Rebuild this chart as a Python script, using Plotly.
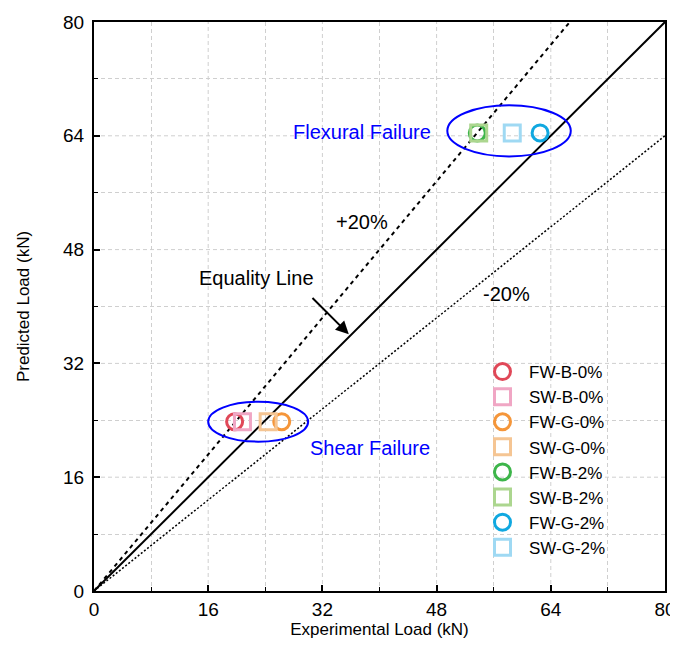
import plotly.graph_objects as go

# Data
names = ["FW-B-0%", "SW-B-0%", "FW-G-0%", "SW-G-0%", "FW-B-2%", "SW-B-2%", "FW-G-2%", "SW-G-2%"]
exp_load = [19.7, 20.8, 26.3, 24.4, 53.7, 53.9, 62.5, 58.6]
pred_load = [23.8, 23.8, 23.8, 23.8, 64.4, 64.4, 64.4, 64.4]
symbols = ["circle-open", "square-open", "circle-open", "square-open",
           "circle-open", "square-open", "circle-open", "square-open"]
colors = ["#e04858", "#f0a6c4", "#f5963a", "#f5c593", "#3db54a", "#acd68f", "#10a8e0", "#9fd9f3"]

line_x = [0, 80]
equality_y = [0, 80]
plus20_x = [0, 80 / 1.2]
plus20_y = [0, 80]
minus20_y = [0, 64]

fig = go.Figure()

fig.add_trace(go.Scatter(x=line_x, y=equality_y, mode="lines",
                         line=dict(color="black", width=2), showlegend=False, hoverinfo="skip"))
fig.add_trace(go.Scatter(x=plus20_x, y=plus20_y, mode="lines",
                         line=dict(color="black", width=2, dash="4px,4px"), showlegend=False, hoverinfo="skip"))
fig.add_trace(go.Scatter(x=line_x, y=minus20_y, mode="lines",
                         line=dict(color="black", width=1.5, dash="2px,2px"), showlegend=False, hoverinfo="skip"))

for n, xv, yv, s, c in zip(names, exp_load, pred_load, symbols, colors):
    fig.add_trace(go.Scatter(x=[xv], y=[yv], mode="markers", name=n,
                             marker=dict(symbol=s, size=16, color=c, line=dict(color=c, width=3))))

fig.add_shape(type="circle", xref="x", yref="y", x0=16.0, x1=30.0, y0=21.0, y1=26.6,
              line=dict(color="#0000ff", width=2))
fig.add_shape(type="circle", xref="x", yref="y", x0=49.5, x1=66.8, y0=61.1, y1=68.3,
              line=dict(color="#0000ff", width=2))

font = "Liberation Sans, Arial, sans-serif"
ann_size = 20
fig.add_annotation(x=37.6, y=64.6, text="Flexural Failure", showarrow=False,
                   font=dict(family=font, size=ann_size, color="#0000ff"))
fig.add_annotation(x=38.7, y=20.1, text="Shear Failure", showarrow=False,
                   font=dict(family=font, size=ann_size, color="#0000ff"))
fig.add_annotation(x=37.6, y=51.9, text="+20%", showarrow=False,
                   font=dict(family=font, size=ann_size, color="black"))
fig.add_annotation(x=57.8, y=41.8, text="-20%", showarrow=False,
                   font=dict(family=font, size=ann_size, color="black"))
fig.add_annotation(x=22.8, y=44.0, text="Equality Line", showarrow=False,
                   font=dict(family=font, size=ann_size, color="black"))
fig.add_annotation(x=35.7, y=36.1, ax=30.4, ay=41.4, xref="x", yref="y", axref="x", ayref="y",
                   text="", showarrow=True, arrowhead=2, arrowsize=1.3, arrowwidth=2, arrowcolor="black")

axis_common = dict(range=[0, 80], tickvals=[0, 16, 32, 48, 64, 80], ticks="inside", ticklen=6,
                   tickwidth=1.5, tickcolor="black", showline=True, linecolor="black", linewidth=2,
                   mirror=True, showgrid=False, zeroline=False, automargin=False,
                   tickfont=dict(family=font, size=19, color="black"),
                   minor=dict(tickvals=[8, 24, 40, 56, 72], ticks="inside", ticklen=4, tickwidth=1,
                              tickcolor="black", showgrid=True, gridcolor="#cfcfcf",
                              griddash="4px,3px", gridwidth=1))

fig.update_xaxes(**axis_common, title=dict(text="Experimental Load (kN)", standoff=0,
                                           font=dict(family=font, size=17, color="black")))
fig.update_yaxes(**axis_common, ticklabelstandoff=4,
                 title=dict(text="Predicted Load (kN)", standoff=29,
                            font=dict(family=font, size=17, color="black")))

# dashed grid lines at the interior major ticks
for v in [16, 32, 48, 64]:
    fig.add_shape(type="line", xref="x", yref="paper", x0=v, x1=v, y0=0, y1=1,
                  line=dict(color="#cfcfcf", width=1, dash="4px,3px"), layer="below")
    fig.add_shape(type="line", xref="paper", yref="y", x0=0, x1=1, y0=v, y1=v,
                  line=dict(color="#cfcfcf", width=1, dash="4px,3px"), layer="below")

# the page body adds an 8px offset, so the figure is sized to fit the 678x664 window
fig.update_layout(
    width=670, height=656,
    margin=dict(l=86, r=13, t=14, b=73),
    plot_bgcolor="white", paper_bgcolor="white",
    font=dict(family=font, size=17, color="black"),
    legend=dict(x=0.669, y=0.4165, xanchor="left", yanchor="top", bgcolor="rgba(0,0,0,0)",
                font=dict(family=font, size=17, color="black"), itemwidth=43, tracegroupgap=0),
)

fig.write_html("out.html")
